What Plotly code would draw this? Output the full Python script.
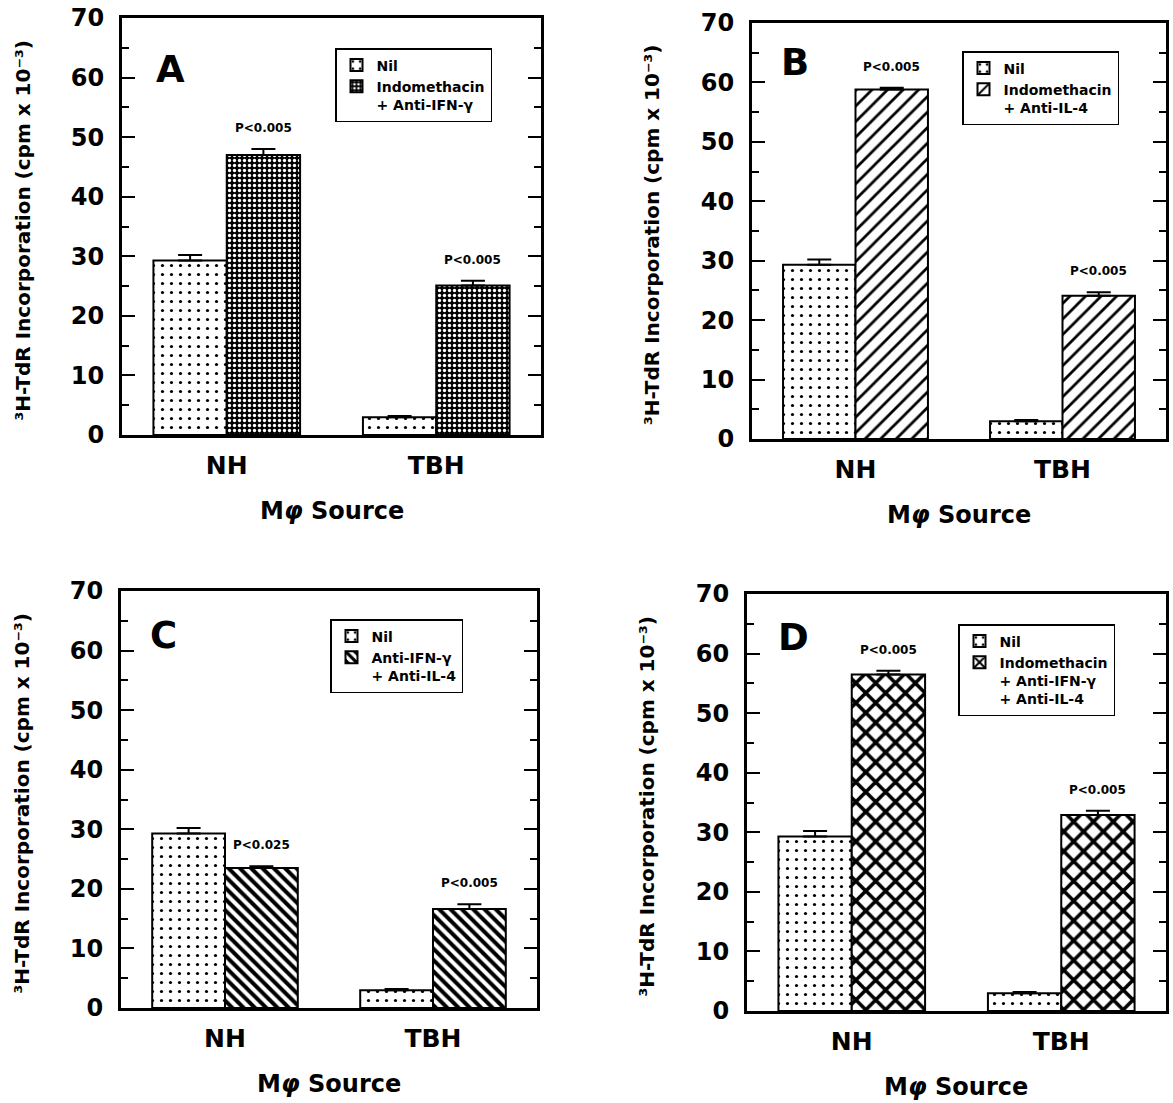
import plotly.graph_objects as go

W, H = 1173, 1103

# ---------------- data ----------------
categories = ["NH", "TBH"]
x_pos = [0, 1]

nil_vals = [29.3, 3.0]
nil_errs = [0.9, 0.2]

treat_A_vals = [47.0, 25.1]
treat_A_errs = [1.0, 0.8]
treat_B_vals = [58.8, 24.1]
treat_B_errs = [0.3, 0.6]
treat_C_vals = [23.5, 16.6]
treat_C_errs = [0.3, 0.8]
treat_D_vals = [56.5, 32.9]
treat_D_errs = [0.6, 0.7]

p_labels_A = ["P<0.005", "P<0.005"]
p_labels_B = ["P<0.005", "P<0.005"]
p_labels_C = ["P<0.025", "P<0.005"]
p_labels_D = ["P<0.005", "P<0.005"]

legend_nil = "Nil"
legend_A = "Indomethacin<br>+ Anti-IFN-γ"
legend_B = "Indomethacin<br>+ Anti-IL-4"
legend_C = "Anti-IFN-γ<br>+ Anti-IL-4"
legend_D = "Indomethacin<br>+ Anti-IFN-γ<br>+ Anti-IL-4"

y_ticks = [0, 10, 20, 30, 40, 50, 60, 70]
x_title = "M<i>φ</i> Source"
y_title = "³H-TdR Incorporation (cpm x 10⁻³)"

FONT = "DejaVu Sans, Liberation Sans, Arial, sans-serif"


def px(x):
    return x / W


def py(y):
    return 1 - y / H


# panel frames in page pixels: (left, right, top, bottom)
frames = {
    "A": (122, 541, 18, 435),
    "B": (752, 1166, 23, 439),
    "C": (121, 537, 591, 1008),
    "D": (747, 1166, 594, 1011),
}

panels = [
    ("A", treat_A_vals, treat_A_errs, p_labels_A, legend_A,
     dict(shape=".", bgcolor="black", fgcolor="white", size=5, solidity=0.35,
          fgopacity=1)),
    ("B", treat_B_vals, treat_B_errs, p_labels_B, legend_B,
     dict(shape="/", bgcolor="white", fgcolor="black", size=11, solidity=0.25,
          fgopacity=1)),
    ("C", treat_C_vals, treat_C_errs, p_labels_C, legend_C,
     dict(shape="\\", bgcolor="white", fgcolor="black", size=8, solidity=0.5,
          fgopacity=1)),
    ("D", treat_D_vals, treat_D_errs, p_labels_D, legend_D,
     dict(shape="x", bgcolor="white", fgcolor="black", size=14, solidity=0.45,
          fgopacity=1)),
]

legend_boxes = {
    "A": (335, 48),
    "B": (962, 51),
    "C": (330, 619),
    "D": (958, 624),
}
letter_pos = {"A": (170, 70), "B": (795, 62), "C": (163, 635), "D": (793, 637)}

fig = go.Figure()
layout = dict(
    width=W, height=H, autosize=False,
    margin=dict(l=0, r=0, t=0, b=0, autoexpand=False),
    paper_bgcolor="white", plot_bgcolor="white",
    barmode="group", bargap=0.3, bargroupgap=0,
    font=dict(family=FONT, color="black"),
)
annotations = []

for i, (name, vals, errs, plabels, legtext, pattern) in enumerate(panels):
    n = i + 1
    xa = "x" if n == 1 else f"x{n}"
    ya = "y" if n == 1 else f"y{n}"
    xkey = "xaxis" if n == 1 else f"xaxis{n}"
    ykey = "yaxis" if n == 1 else f"yaxis{n}"
    lkey = "legend" if n == 1 else f"legend{n}"
    l, r, t, b = frames[name]

    fig.add_trace(go.Bar(
        x=x_pos, y=nil_vals, name=f"<b>{legend_nil}</b>",
        xaxis=xa, yaxis=ya, legend=lkey, offsetgroup="nil",
        marker=dict(color="white", line=dict(color="black", width=2),
                    pattern=dict(shape=".", bgcolor="white", fgcolor="black",
                                 size=9, solidity=0.1, fgopacity=1)),
        error_y=dict(type="data", array=nil_errs, arrayminus=[0, 0],
                     symmetric=False, color="black", thickness=2, width=12),
    ))
    fig.add_trace(go.Bar(
        x=x_pos, y=vals, name=f"<b>{legtext}</b>",
        xaxis=xa, yaxis=ya, legend=lkey, offsetgroup="treat",
        marker=dict(color=pattern["bgcolor"], line=dict(color="black", width=2),
                    pattern=pattern),
        error_y=dict(type="data", array=errs, arrayminus=[0, 0],
                     symmetric=False, color="black", thickness=2, width=12),
    ))

    layout[xkey] = dict(
        domain=[px(l), px(r)], anchor=ya, range=[-0.5, 1.5],
        tickvals=x_pos, ticktext=[f"<b>{c}</b>" for c in categories],
        tickfont=dict(size=25, family=FONT), ticks="",
        showline=True, linecolor="black", linewidth=3, mirror=True,
        showgrid=False, zeroline=False, ticklabelstandoff=6,
    )
    layout[ykey] = dict(
        domain=[py(b), py(t)], anchor=xa, range=[0, 70],
        tickvals=y_ticks, ticktext=[f"<b>{v}</b>" for v in y_ticks],
        tickfont=dict(size=24, family=FONT),
        ticks="inside", ticklen=13, tickwidth=2, tickcolor="black",
        minor=dict(dtick=5, ticks="inside", ticklen=7, tickwidth=1.5,
                   tickcolor="black", showgrid=False),
        showline=True, linecolor="black", linewidth=3, mirror="ticks",
        showgrid=False, zeroline=False, ticklabelstandoff=10,
        ticklabeloverflow="allow",
    )
    lx, ly = legend_boxes[name]
    layout[lkey] = dict(
        x=px(lx), y=py(ly), xanchor="left", yanchor="top",
        xref="paper", yref="paper",
        bordercolor="black", borderwidth=1.5, bgcolor="white",
        font=dict(size=14, family=FONT), valign="top",
        tracegroupgap=0, itemwidth=30,
    )

    # P-value labels above treatment bars
    for xi, v, e, lab in zip(x_pos, vals, errs, plabels):
        annotations.append(dict(
            x=xi + 0.175, y=v + e, xref=xa, yref=ya,
            text=f"<b>{lab}</b>", showarrow=False,
            yanchor="bottom", yshift=12,
            font=dict(size=12, family=FONT),
        ))

    # panel letter
    lxp, lyp = letter_pos[name]
    annotations.append(dict(
        x=px(lxp), y=py(lyp), xref="paper", yref="paper",
        text=f"<b>{name}</b>", showarrow=False,
        xanchor="center", yanchor="middle",
        font=dict(size=37, family=FONT),
    ))

    # x-axis title
    annotations.append(dict(
        x=px((l + r) / 2), y=py(b + 76), xref="paper", yref="paper",
        text=f"<b>{x_title}</b>", showarrow=False,
        xanchor="center", yanchor="middle",
        font=dict(size=24, family=FONT),
    ))

    # y-axis title
    annotations.append(dict(
        x=px(l - 100), y=py((t + b) / 2 + 4), xref="paper", yref="paper",
        text=f"<b>{y_title}</b>", showarrow=False, textangle=-90,
        xanchor="center", yanchor="middle",
        font=dict(size=20, family=FONT),
    ))

layout["annotations"] = annotations
fig.update_layout(**layout)

fig.write_html(
    "out.html",
    config={"displayModeBar": False},
    post_script="document.body.style.margin='0';"
                "document.body.style.overflow='hidden';"
                "document.documentElement.style.overflow='hidden';",
)
